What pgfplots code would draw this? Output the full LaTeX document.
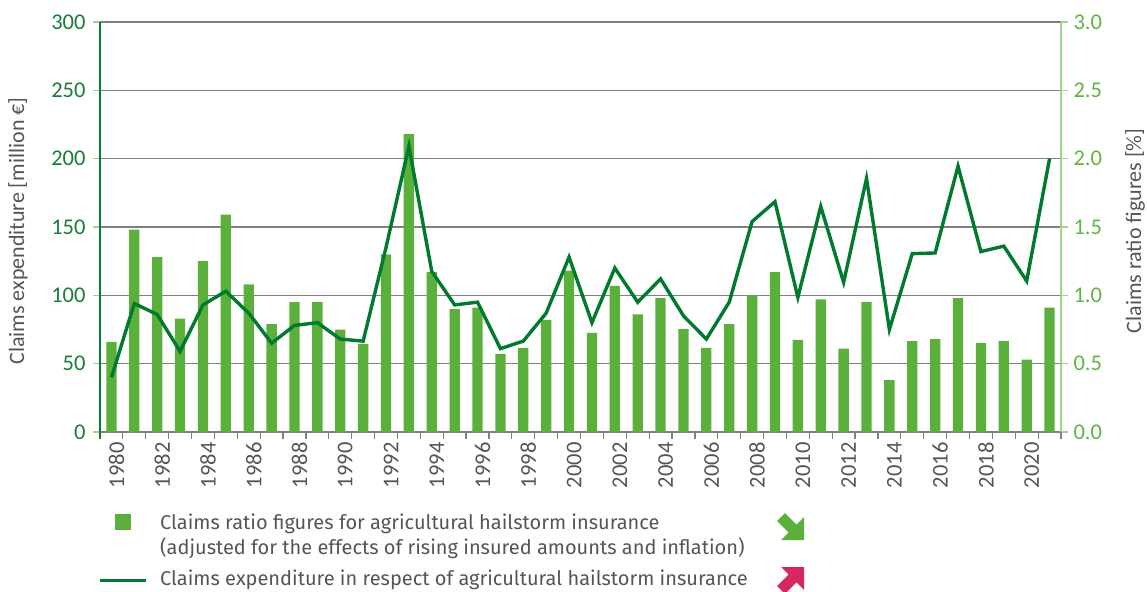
\documentclass[border=0pt]{standalone}
\usepackage{fontspec}
\setmainfont{Carlito}
\newfontfamily\legfont{Fira Sans}
\usepackage{pgfplots}
\pgfplotsset{compat=1.18}
\usepackage{pgfplotstable}
\definecolor{barG}{RGB}{91,176,60}
\definecolor{lineG}{RGB}{0,122,46}
\definecolor{lblDark}{RGB}{25,125,55}
\definecolor{lblLight}{RGB}{95,180,65}
\definecolor{axLight}{RGB}{160,212,140}
\definecolor{axDark}{RGB}{0,130,50}
\definecolor{gridG}{RGB}{128,128,128}
\definecolor{txtG}{RGB}{85,85,85}
\definecolor{arrMag}{RGB}{212,40,95}

\pgfplotstableread{
year ratio expend
1980 0.66 40
1981 1.48 94
1982 1.28 86
1983 0.83 59
1984 1.25 93
1985 1.59 103
1986 1.08 87
1987 0.79 65
1988 0.95 78
1989 0.95 80
1990 0.75 68
1991 0.645 66.5
1992 1.30 135
1993 2.18 209
1994 1.17 117.5
1995 0.90 93
1996 0.91 95
1997 0.57 61
1998 0.615 66.5
1999 0.82 87
2000 1.18 128
2001 0.725 80
2002 1.07 120
2003 0.86 95
2004 0.98 112
2005 0.755 85
2006 0.615 68
2007 0.79 95
2008 1.00 154
2009 1.17 168.5
2010 0.675 98.5
2011 0.97 165
2012 0.61 109.5
2013 0.95 185.5
2014 0.38 75
2015 0.665 130.5
2016 0.68 131
2017 0.98 194.5
2018 0.65 132
2019 0.665 136
2020 0.53 110.5
2021 0.91 200
}\datatable

\begin{document}
\begin{tikzpicture}
\path[use as bounding box] (0,0) rectangle (1147bp,-592bp);
% right axis: claims ratio bars
\begin{axis}[
  at={(100bp,-432bp)}, anchor=south west,
  scale only axis, width=961bp, height=410bp,
  xmin=1979.5, xmax=2021.5, ymin=0, ymax=3,
  axis y line*=right, axis x line*=bottom,
  x axis line style={draw=gridG, line width=1.5bp, -},
  y axis line style={draw=axLight, line width=1.5bp, -},
  ymajorgrids, grid style={draw=gridG, line width=1.5bp},
  ytick={0,0.5,1,1.5,2,2.5,3},
  xtick={1980,1982,...,2020},
  xtick style={draw=none},
  ytick style={draw=axLight, line width=1.2bp},
  tick align=outside, major tick length=7bp,
  /pgf/number format/assume math mode=true,
  /pgf/number format/1000 sep={},
  yticklabel style={font=\fontsize{22.5bp}{22.5bp}\selectfont, text=lblLight, xshift=2bp,
     /pgf/number format/fixed, /pgf/number format/fixed zerofill,
     /pgf/number format/precision=1},
  xticklabel style={font=\fontsize{22.5bp}{22.5bp}\selectfont, text=txtG,
     rotate=90, anchor=east, yshift=-5bp},
]
\addplot[ybar, bar width=10.3bp, fill=barG, draw=none] table[x=year,y=ratio]{\datatable};
\end{axis}
% left axis: claims expenditure line
\begin{axis}[
  at={(100bp,-432bp)}, anchor=south west,
  scale only axis, width=961bp, height=410bp,
  xmin=1979.5, xmax=2021.5, ymin=0, ymax=300,
  axis y line*=left, axis x line*=bottom,
  x axis line style={draw=none},
  y axis line style={draw=axDark, line width=1.2bp, -, shorten <=-7bp},
  xtick={1979.5,1980.5,...,2021.5}, xticklabels={},
  xtick style={draw=gridG, line width=1.2bp},
  ytick={0,50,...,300},
  ytick style={draw=axLight, line width=1.2bp},
  tick align=outside, major tick length=7bp,
  /pgf/number format/assume math mode=true,
  yticklabel style={font=\fontsize{22.5bp}{22.5bp}\selectfont, text=lblDark, xshift=-4bp},
]
\addplot[lineG, line width=3.4bp, mark=none] table[x=year,y=expend]{\datatable};
\end{axis}
% axis titles
\node[rotate=90, text=txtG, font=\fontsize{22bp}{22bp}\selectfont] at (18bp,-231bp) {Claims expenditure [million €]};
\node[rotate=90, text=txtG, font=\fontsize{22bp}{22bp}\selectfont] at (1135bp,-231bp) {Claims ratio figures [\%]};
% legend
\fill[barG] (115bp,-514bp) rectangle (131bp,-530bp);
\draw[lineG, line width=3.3bp] (100bp,-580.7bp) -- (146bp,-580.7bp);
\begin{scope}[every node/.style={anchor=base west, inner sep=0pt, text=txtG, font=\legfont\fontsize{20bp}{20bp}\selectfont}]
\node at (160bp,-529bp) {Claims ratio figures for agricultural hailstorm insurance};
\node at (160bp,-554bp) {(adjusted for the effects of rising insured amounts and inflation)};
\node at (160bp,-585bp) {Claims expenditure in respect of agricultural hailstorm insurance};
\end{scope}
% trend arrows
\fill[barG] (777.1bp,-520.9bp) -- (784.9bp,-513.1bp) -- (796.4bp,-524.6bp) -- (804bp,-517bp) -- (804bp,-540bp) -- (781bp,-540bp) -- (788.6bp,-532.4bp) -- cycle;
\fill[arrMag] (777.1bp,-586.1bp) -- (784.9bp,-593.9bp) -- (796.4bp,-582.4bp) -- (804bp,-590bp) -- (804bp,-567bp) -- (781bp,-567bp) -- (788.6bp,-574.6bp) -- cycle;
\end{tikzpicture}
\end{document}
